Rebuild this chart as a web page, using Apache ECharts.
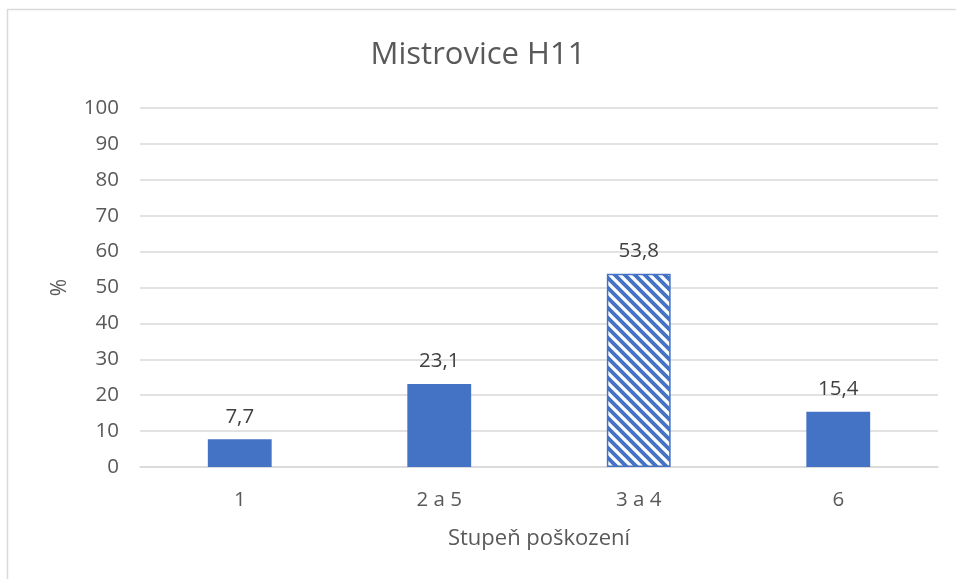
<!DOCTYPE html>
<html>
<head>
<meta charset="utf-8">
<script src="https://cdn.jsdelivr.net/npm/echarts@6/dist/echarts.min.js"></script>
<style>
  html, body { margin: 0; padding: 0; background: #fff; }
  #chart { width: 956px; height: 579px; }
</style>
</head>
<body>
<div id="chart"></div>
<script>
// hodnoty z grafu
const categories = ['1', '2 a 5', '3 a 4', '6']
const values = [7.7, 23.1, 53.8, 15.4]
const yTicks = { min: 0, max: 100, step: 10 }

// sraffovany vzor pro "3 a 4"
function makeStripes() {
  const c = document.createElement('canvas')
  c.width = 10
  c.height = 10
  const ctx = c.getContext('2d')
  ctx.fillStyle = '#fff'
  ctx.fillRect(0, 0, 10, 10)
  ctx.strokeStyle = '#4472C4'
  ctx.lineWidth = 3.8
  ctx.beginPath()
  ctx.moveTo(-5, -5); ctx.lineTo(15, 15)
  ctx.moveTo(-15, -5); ctx.lineTo(5, 15)
  ctx.moveTo(5, -5); ctx.lineTo(25, 15)
  ctx.stroke()
  return c
}

const chart = echarts.init(document.getElementById('chart'))
const font = '"Open Sans", "Noto Sans", sans-serif'

chart.setOption({
  animation: false,
  textStyle: { fontFamily: font },
  title: {
    text: 'Mistrovice H11',
    left: 'center',
    top: 35,
    textStyle: { fontSize: 31, fontWeight: 'normal', color: '#595959', fontFamily: font }
  },
  graphic: [{
    type: 'rect',
    shape: { x: 7.5, y: 9.5, width: 980, height: 600 },
    style: { fill: 'none', stroke: '#d9d9d9', lineWidth: 1.5 },
    silent: true
  }],
  grid: { left: 140, right: 18, top: 108, bottom: 112 },
  xAxis: {
    type: 'category',
    data: categories,
    name: 'Stupeň poškození',
    nameLocation: 'middle',
    nameGap: 61,
    nameTextStyle: { fontSize: 22, color: '#595959', fontFamily: font },
    axisLine: { lineStyle: { color: '#d9d9d9', width: 1.5 } },
    axisTick: { show: false },
    axisLabel: { fontSize: 20.5, color: '#595959', margin: 23, fontFamily: font }
  },
  yAxis: {
    type: 'value',
    min: yTicks.min,
    max: yTicks.max,
    interval: yTicks.step,
    name: '%',
    nameLocation: 'middle',
    nameGap: 69,
    nameTextStyle: { fontSize: 21, color: '#595959', fontFamily: font },
    axisLine: { show: false },
    axisTick: { show: false },
    axisLabel: { fontSize: 20.5, color: '#595959', margin: 21, fontFamily: font },
    splitLine: { lineStyle: { color: '#d9d9d9', width: 1.5 } }
  },
  series: [{
    type: 'bar',
    barWidth: '32%',
    data: values.map((v, i) => {
      if (categories[i] === '3 a 4') {
        return {
          value: v,
          itemStyle: {
            color: { image: makeStripes(), repeat: 'repeat' },
            borderColor: '#4472C4',
            borderWidth: 1.5
          }
        }
      }
      return v
    }),
    itemStyle: { color: '#4472C4' },
    label: {
      show: true,
      position: 'top',
      distance: 12,
      fontSize: 20.5,
      color: '#404040',
      fontFamily: font,
      formatter: p => String(p.value).replace('.', ',')
    }
  }]
})
</script>
</body>
</html>
